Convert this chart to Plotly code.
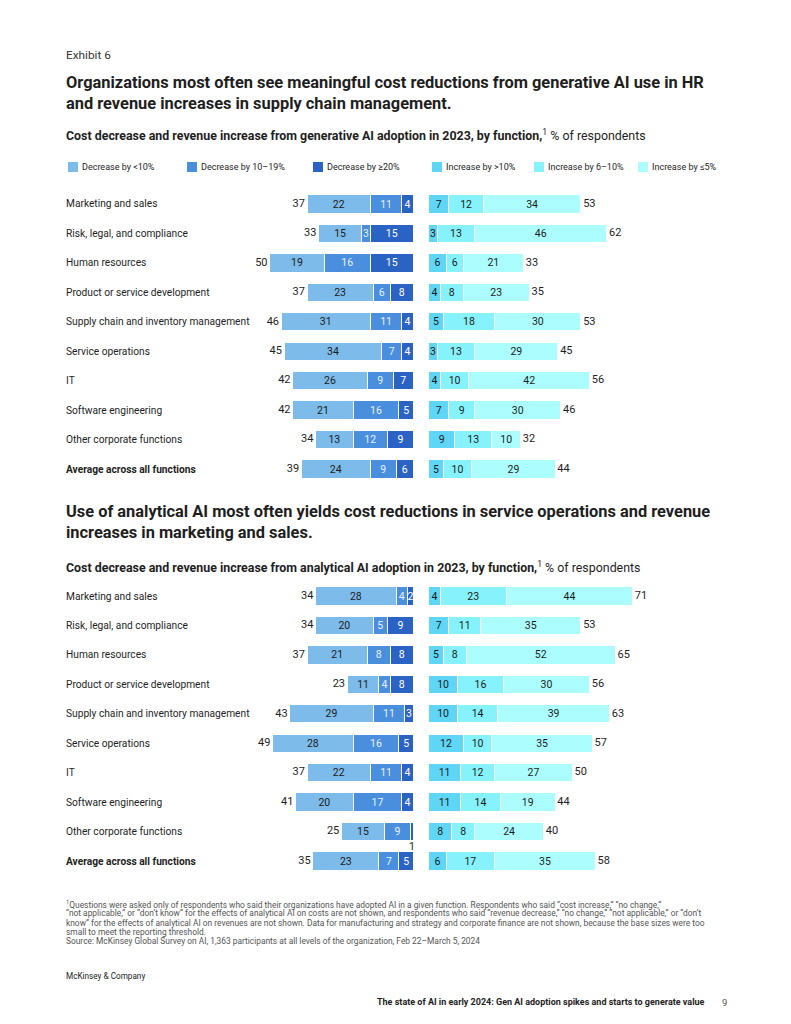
import plotly.graph_objects as go

W, H = 791, 1024
OFF = 8  # page body margin of the browser
FW, FH = W - 2 * OFF, H - 2 * OFF

functions = ["Marketing and sales", "Risk, legal, and compliance", "Human resources",
             "Product or service development", "Supply chain and inventory management",
             "Service operations", "IT", "Software engineering", "Other corporate functions",
             "Average across all functions"]

# Generative AI
gen_dec_lt10 = [22, 15, 19, 23, 31, 34, 26, 21, 13, 24]
gen_dec_10_19 = [11, 3, 16, 6, 11, 7, 9, 16, 12, 9]
gen_dec_ge20 = [4, 15, 15, 8, 4, 4, 7, 5, 9, 6]
gen_dec_total = [37, 33, 50, 37, 46, 45, 42, 42, 34, 39]
gen_inc_gt10 = [7, 3, 6, 4, 5, 3, 4, 7, 9, 5]
gen_inc_6_10 = [12, 13, 6, 8, 18, 13, 10, 9, 13, 10]
gen_inc_le5 = [34, 46, 21, 23, 30, 29, 42, 30, 10, 29]
gen_inc_total = [53, 62, 33, 35, 53, 45, 56, 46, 32, 44]

# Analytical AI
ana_dec_lt10 = [28, 20, 21, 11, 29, 28, 22, 20, 15, 23]
ana_dec_10_19 = [4, 5, 8, 4, 11, 16, 11, 17, 9, 7]
ana_dec_ge20 = [2, 9, 8, 8, 3, 5, 4, 4, 1, 5]
ana_dec_total = [34, 34, 37, 23, 43, 49, 37, 41, 25, 35]
ana_inc_gt10 = [4, 7, 5, 10, 10, 12, 11, 11, 8, 6]
ana_inc_6_10 = [23, 11, 8, 16, 14, 10, 12, 14, 8, 17]
ana_inc_le5 = [44, 35, 52, 30, 39, 35, 27, 19, 24, 35]
ana_inc_total = [71, 53, 65, 56, 63, 57, 50, 44, 40, 58]

legend_labels = ["Decrease by <10%", "Decrease by 10–19%", "Decrease by ≥20%",
                 "Increase by >10%", "Increase by 6–10%", "Increase by ≤5%"]

title1 = "Organizations most often see meaningful cost reductions from generative AI use in HR<br>and revenue increases in supply chain management."
sub1 = "<b>Cost decrease and revenue increase from generative AI adoption in 2023, by function,</b><sup>1</sup> % of respondents"
title2 = "Use of analytical AI most often yields cost reductions in service operations and revenue<br>increases in marketing and sales."
sub2 = "<b>Cost decrease and revenue increase from analytical AI adoption in 2023, by function,</b><sup>1</sup> % of respondents"
footnote = [
    "<sup>1</sup>Questions were asked only of respondents who said their organizations have adopted AI in a given function. Respondents who said “cost increase,” “no change,”",
    "“not applicable,” or “don’t know” for the effects of analytical AI on costs are not shown, and respondents who said “revenue decrease,” “no change,” “not applicable,” or “don’t",
    "know” for the effects of analytical AI on revenues are not shown. Data for manufacturing and strategy and corporate finance are not shown, because the base sizes were too",
    "small to meet the reporting threshold.",
    "Source: McKinsey Global Survey on AI, 1,363 participants at all levels of the organization, Feb 22–March 5, 2024",
]

# ---- styling ----
FONT = "Roboto"
C_DEC = ["#7dbbea", "#4a8fdd", "#2a63c4"]
C_INC = ["#5fd6f6", "#86f2fb", "#acfdfd"]
T_DEC = ["#1c1c1c", "#e6efff", "#ffffff"]
T_INC = ["#1c1c1c", "#1c1c1c", "#1c1c1c"]
TXT = "#1e1e1e"


def px_x(p):
    return (p - OFF) / FW


def px_y(p):
    return 1 - (p - OFF) / FH


CENTER_L, CENTER_R = 413.3, 428.8
SCALE = 2.87  # px per percentage point
L_START, R_END = 200, 720
SP = "\u2009"

fig = go.Figure()
rows = list(range(len(functions)))
BAR_W = 0.62


def add_chart(xl, xr, ya, dec, dec_tot, inc, inc_tot):
    order = [2, 1, 0]  # centre outward
    for k in order:
        vals = dec[k]
        txt = [str(v) if v >= 2 else "" for v in vals]
        fig.add_trace(go.Bar(
            x=vals, y=rows, orientation="h", xaxis=xl, yaxis=ya, width=BAR_W,
            marker=dict(color=C_DEC[k], line=dict(color="white", width=1)),
            text=txt, textposition="inside", insidetextanchor="middle", textangle=0,
            constraintext="none", cliponaxis=False,
            textfont=dict(family=FONT, size=10.5, color=T_DEC[k]),
            showlegend=False, hoverinfo="skip"))
    for k in range(3):
        vals = inc[k]
        txt = [str(v) if v >= 2 else "" for v in vals]
        fig.add_trace(go.Bar(
            x=vals, y=rows, orientation="h", xaxis=xr, yaxis=ya, width=BAR_W,
            marker=dict(color=C_INC[k], line=dict(color="white", width=1)),
            text=txt, textposition="inside", insidetextanchor="middle", textangle=0,
            constraintext="none", cliponaxis=False,
            textfont=dict(family=FONT, size=10.5, color=T_INC[k]),
            showlegend=False, hoverinfo="skip"))
    fig.add_trace(go.Scatter(
        x=dec_tot, y=rows, mode="text", text=[str(v) + SP for v in dec_tot],
        textposition="middle left", xaxis=xl, yaxis=ya, cliponaxis=False,
        textfont=dict(family=FONT, size=11, color=TXT), showlegend=False, hoverinfo="skip"))
    fig.add_trace(go.Scatter(
        x=inc_tot, y=rows, mode="text", text=[SP + str(v) for v in inc_tot],
        textposition="middle right", xaxis=xr, yaxis=ya, cliponaxis=False,
        textfont=dict(family=FONT, size=11, color=TXT), showlegend=False, hoverinfo="skip"))
    yref = ya
    xref = xl
    for i in rows:
        cum = 0
        for k in order:
            v = dec[k][i]
            if 0 < v < 2:
                fig.add_annotation(x=cum + v / 2, y=i, xref=xref, yref=yref, text=str(v),
                                   showarrow=False, yshift=-15,
                                   font=dict(family=FONT, size=10.5, color=TXT))
            cum += v
    for i, name in enumerate(functions):
        label = f"<b>{name}</b>" if i == len(functions) - 1 else name
        fig.add_annotation(x=px_x(64), y=i, xref="paper", yref=yref, text=label,
                           xanchor="left", showarrow=False,
                           font=dict(family=FONT, size=10.2, color=TXT))


add_chart("x", "x2", "y",
          [gen_dec_lt10, gen_dec_10_19, gen_dec_ge20], gen_dec_total,
          [gen_inc_gt10, gen_inc_6_10, gen_inc_le5], gen_inc_total)
add_chart("x3", "x4", "y2",
          [ana_dec_lt10, ana_dec_10_19, ana_dec_ge20], ana_dec_total,
          [ana_inc_gt10, ana_inc_6_10, ana_inc_le5], ana_inc_total)

left_dom = [px_x(L_START), px_x(CENTER_L)]
right_dom = [px_x(CENTER_R), px_x(R_END)]
left_rng = [(CENTER_L - L_START) / SCALE, 0]
right_rng = [0, (R_END - CENTER_R) / SCALE]
ROW = 29.44
g1 = (204 - ROW / 2, 469 + ROW / 2)
g2 = (596 - ROW / 2, 861 + ROW / 2)

hid = dict(showgrid=False, zeroline=False, showticklabels=False, ticks="", showline=False, fixedrange=True)
fig.update_layout(
    xaxis=dict(domain=left_dom, range=left_rng, anchor="y", **hid),
    xaxis2=dict(domain=right_dom, range=right_rng, anchor="y", **hid),
    xaxis3=dict(domain=left_dom, range=left_rng, anchor="y2", **hid),
    xaxis4=dict(domain=right_dom, range=right_rng, anchor="y2", **hid),
    yaxis=dict(domain=[px_y(g1[1]), px_y(g1[0])], range=[9.5, -0.5], anchor="x", **hid),
    yaxis2=dict(domain=[px_y(g2[1]), px_y(g2[0])], range=[9.5, -0.5], anchor="x3", **hid),
    barmode="stack",
    width=FW, height=FH, autosize=False,
    margin=dict(l=0, r=0, t=0, b=0),
    paper_bgcolor="white", plot_bgcolor="white",
    showlegend=False,
    font=dict(family=FONT, color=TXT),
)


def ann(x, y, text, size, color=TXT, xanchor="left", yanchor="middle", **kw):
    fig.add_annotation(x=px_x(x), y=px_y(y), xref="paper", yref="paper", text=text,
                       xanchor=xanchor, yanchor=yanchor, showarrow=False, align="left",
                       font=dict(family=FONT, size=size, color=color), **kw)


ann(64, 55, "Exhibit 6", 11.8, "#333333")
ann(64, 93, f"<b>{title1}</b>", 16.4)
ann(64, 135, sub1, 12.4)
ann(64, 522, f"<b>{title2}</b>", 16.4)
ann(64, 567, sub2, 12.4)

# legend (custom)
leg_x = [68, 187, 313, 432, 534, 638]
leg_colors = C_DEC + C_INC
for lx, lab, col in zip(leg_x, legend_labels, leg_colors):
    fig.add_shape(type="rect", xref="paper", yref="paper",
                  x0=px_x(lx), x1=px_x(lx + 10), y0=px_y(172), y1=px_y(162),
                  fillcolor=col, line=dict(width=0))
    ann(lx + 12, 167, lab, 9.0)

for j, line in enumerate(footnote):
    ann(64, 904 + j * 9.3, line, 8.4, "#555555")

ann(64, 976, "McKinsey & Company", 8.2, "#222222")
ann(707, 1002, "<b>The state of AI in early 2024: Gen AI adoption spikes and starts to generate value</b>",
    9.0, "#222222", xanchor="right")
ann(720, 1002, "9", 9.5, "#555555")

fig.write_html("out.html")
